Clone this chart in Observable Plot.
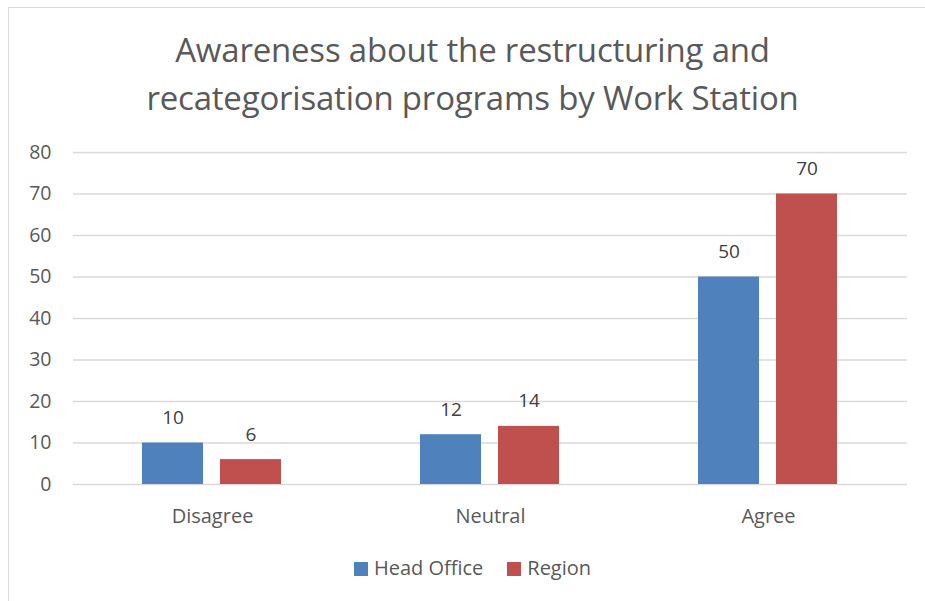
<!DOCTYPE html>
<html>
<head>
<meta charset="utf-8">
<script src="https://cdn.jsdelivr.net/npm/d3@7"></script>
<script src="https://cdn.jsdelivr.net/npm/@observablehq/plot@0.6"></script>
<style>
  html, body { margin: 0; padding: 0; background: #fff; overflow: hidden; }
  body { width: 925px; height: 601px; position: relative; font-family: "Open Sans", sans-serif; color: #595959; }
  #frame { position: absolute; left: 8px; top: 7px; width: 940px; height: 620px; border: 1.5px solid #d9d9d9; box-sizing: border-box; }
  #title { position: absolute; left: 0; width: 945px; top: 26px; text-align: center; font-size: 33px; line-height: 48px; color: #595959; font-weight: 400; letter-spacing: -0.2px; }
  #chart { position: absolute; left: 0; top: 130px; }
  #legend { position: absolute; left: 0; width: 945px; top: 554px; text-align: center; font-size: 20px; color: #595959; }
  .sw { display: inline-block; width: 14px; height: 14px; margin-right: 6px; vertical-align: -1px; }
  .item { margin: 0 12px; }
</style>
</head>
<body>
<div id="frame"></div>
<div id="title">Awareness about the restructuring and<br>recategorisation programs by Work Station</div>
<div id="chart"></div>
<div id="legend"></div>
<script>
const categories = ["Disagree", "Neutral", "Agree"];
const seriesNames = ["Head Office", "Region"];
const headOffice = [10, 12, 50];
const region = [6, 14, 70];
const yTicks = [0, 10, 20, 30, 40, 50, 60, 70, 80];
const colors = ["#4f81bd", "#c0504d"];

const data = [];
categories.forEach((c, i) => {
  data.push({category: c, series: seriesNames[0], value: headOffice[i]});
  data.push({category: c, series: seriesNames[1], value: region[i]});
});

const chart = Plot.plot({
  width: 925,
  height: 420,
  marginLeft: 72,
  marginRight: 18,
  marginTop: 22,
  marginBottom: 66,
  style: {fontFamily: "Open Sans, sans-serif", color: "#595959", background: "transparent"},
  fx: {domain: categories, padding: 0, label: null},
  x: {domain: seriesNames, paddingInner: 0.215, paddingOuter: 0.867, axis: null},
  y: {domain: [0, 80], ticks: yTicks, label: null},
  color: {domain: seriesNames, range: colors},
  marks: [
    Plot.gridY(yTicks, {stroke: "#d9d9d9", strokeOpacity: 1, strokeWidth: 1.4}),
    Plot.axisY(yTicks, {tickSize: 0, tickPadding: 22, fontSize: 19.5, fill: "#595959", label: null}),
    Plot.axisFx({anchor: "bottom", tickSize: 0, tickPadding: 24, fontSize: 20, fill: "#595959", label: null}),
    Plot.barY(data, {fx: "category", x: "series", y: "value", fill: "series"}),
    Plot.text(data, {fx: "category", x: "series", y: "value", text: d => String(d.value), dy: -25, fontSize: 19, fill: "#404040", lineAnchor: "middle"})
  ]
});
document.getElementById("chart").appendChild(chart);

const legend = document.getElementById("legend");
seriesNames.forEach((s, i) => {
  const span = document.createElement("span");
  span.className = "item";
  const sw = document.createElement("span");
  sw.className = "sw";
  sw.style.background = colors[i];
  span.appendChild(sw);
  span.appendChild(document.createTextNode(s));
  legend.appendChild(span);
});
</script>
</body>
</html>
